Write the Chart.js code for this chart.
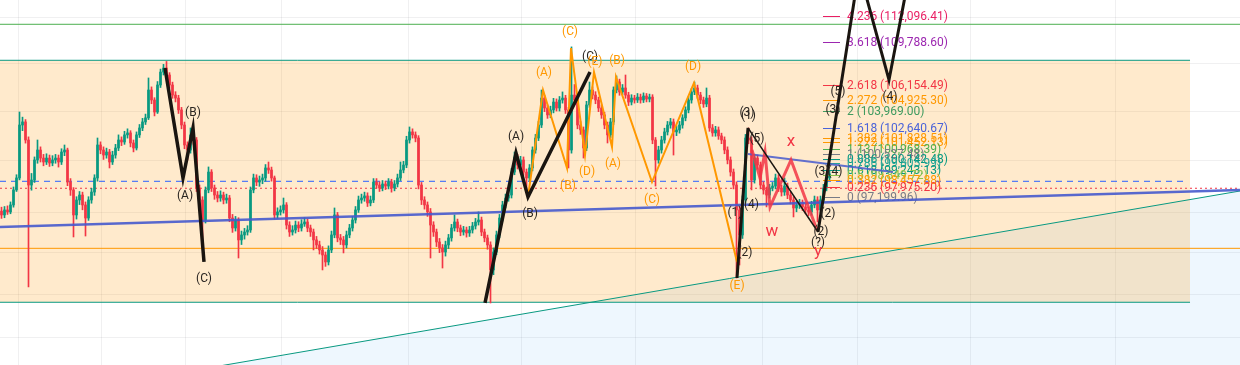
<!DOCTYPE html>
<html><head><meta charset="utf-8">
<script src="https://cdn.jsdelivr.net/npm/chart.js@4.4.1/dist/chart.umd.min.js"></script>
<style>html,body{margin:0;padding:0;background:#fff;overflow:hidden}canvas{display:block}</style>
</head><body>
<canvas id="c" width="1240" height="365"></canvas>
<script>
// ---- candle data (price in thousands USD), one candle per time index ----
const opens = [
96.10,95.81,96.19,96.04,96.57,97.72,98.65,102.86,103.11,101.65,
98.10,98.49,100.06,100.85,100.21,99.90,100.21,99.82,100.06,100.21,
99.90,100.69,100.85,98.33,97.72,95.81,96.95,97.33,96.57,95.58,
96.95,97.56,98.65,101.25,100.85,100.45,100.69,99.90,100.45,101.01,
101.65,101.49,102.06,102.22,101.41,101.01,102.06,102.62,103.11,103.44,
105.74,104.91,103.92,106.16,107.25,107.59,107.00,106.16,105.32,105.07,
104.09,102.86,101.25,100.85,102.06,101.65,97.87,96.95,95.43,97.72,
99.11,97.87,97.33,97.10,97.33,96.95,97.10,95.58,94.83,95.43,
93.94,94.31,94.53,94.68,97.72,98.65,98.33,98.49,98.65,99.43,
99.27,98.65,95.81,96.04,96.19,96.57,95.05,94.53,94.68,95.05,
94.83,95.13,95.28,94.83,94.53,93.94,93.57,93.20,92.83,92.32,
93.20,94.31,95.81,94.09,93.94,93.57,94.31,94.83,95.43,96.19,
96.95,97.10,97.26,96.72,96.95,98.33,98.10,97.87,98.18,98.02,
98.33,97.87,98.18,98.65,99.27,99.66,101.65,102.30,102.06,101.81,
98.10,96.95,96.57,96.04,95.05,94.53,93.79,93.35,93.05,93.57,
94.09,94.83,95.28,94.83,94.53,94.68,94.46,94.68,94.98,95.28,
95.43,94.53,94.09,93.57,91.74,93.05,94.31,95.58,96.57,97.10,
97.33,99.11,100.29,99.66,100.06,99.11,98.65,99.43,100.85,101.81,
102.86,105.07,104.25,103.68,104.09,104.74,104.25,104.91,105.07,104.09,
100.85,105.32,104.91,102.86,102.46,101.01,104.50,105.74,105.32,104.91,
104.25,103.68,102.86,102.06,103.11,105.74,106.41,105.58,105.91,105.32,
104.74,105.07,104.91,105.15,104.91,105.24,104.99,105.15,101.65,100.06,
100.85,101.65,102.30,102.86,103.11,102.30,102.46,102.86,103.44,104.09,
104.91,105.58,105.91,105.32,104.91,104.58,105.07,102.62,102.22,102.46,
101.98,101.65,100.85,100.06,99.11,98.10,96.19,94.31,96.95,101.81,
101.65,98.49,100.21,99.66,98.10,97.72,97.33,97.87,98.02,98.65,
97.87,97.56,98.02,97.33,96.95,96.34,96.57,96.72,96.42,96.19,
96.04,96.57,96.95,96.19,96.95,97.87,98.65];
const highs = [
96.40,96.45,96.50,96.80,97.95,98.90,103.92,103.50,103.30,101.90,
99.00,100.30,101.65,101.10,100.50,100.55,100.45,100.40,100.50,100.45,
100.95,101.25,101.00,98.60,97.90,97.20,97.60,97.55,96.80,97.20,
97.85,98.90,101.81,101.50,101.10,101.00,100.90,100.75,101.30,102.06,
101.90,102.35,102.55,102.40,101.65,102.30,102.90,103.40,103.75,106.75,
106.00,105.10,106.45,107.50,107.90,108.15,107.20,106.40,105.60,105.30,
104.30,103.10,101.50,102.62,102.30,101.85,98.10,97.20,97.95,99.51,
99.30,98.10,97.60,97.65,97.55,97.40,97.30,95.85,95.70,95.60,
94.60,94.80,95.00,97.95,98.95,98.90,98.80,98.95,99.70,99.90,
99.50,98.80,96.35,96.50,97.10,96.75,95.30,95.00,95.35,95.30,
95.45,95.60,95.50,95.05,94.75,94.20,93.85,93.45,93.05,93.50,
94.60,96.34,96.00,94.35,94.20,94.60,95.10,95.70,96.45,97.25,
97.40,97.55,97.50,97.25,98.60,98.60,98.35,98.45,98.40,98.60,
98.55,98.45,98.95,99.90,99.95,101.95,102.70,102.55,102.30,102.00,
98.30,97.20,96.80,96.30,95.30,94.75,94.05,93.60,93.85,94.35,
95.10,95.81,95.50,95.05,94.95,94.90,94.95,95.25,95.55,96.04,
95.65,94.75,94.30,93.80,93.35,94.60,95.85,96.85,97.40,97.65,
99.40,100.69,100.50,100.35,100.30,99.35,99.70,101.10,102.10,103.15,
105.74,105.30,104.50,104.40,105.05,105.00,105.20,105.58,105.30,104.30,
109.40,106.20,105.15,103.15,102.70,104.80,106.41,106.00,105.60,105.15,
104.50,103.90,103.10,103.40,106.00,106.92,106.65,106.20,107.00,105.55,
105.35,105.30,105.45,105.40,105.50,105.45,105.40,105.35,101.85,101.15,
101.95,102.60,103.15,103.40,103.35,102.80,103.15,103.70,104.35,105.20,
105.85,106.41,106.15,105.55,105.15,105.91,105.30,102.90,102.75,102.70,
102.20,101.90,101.10,100.30,99.35,98.35,96.45,97.25,102.10,102.62,
101.90,100.50,100.45,99.90,98.35,97.95,98.15,98.30,98.95,98.90,
98.10,98.65,98.25,97.55,97.20,96.85,97.00,96.95,96.65,96.40,
96.85,97.25,97.20,97.25,98.15,98.95,99.25];
const lows = [
95.55,95.60,95.85,95.90,96.40,97.60,98.50,102.40,101.40,90.52,
97.70,98.30,99.80,99.90,99.60,99.70,99.55,99.60,99.80,99.50,
99.70,100.40,98.05,97.30,94.16,95.50,96.60,96.20,94.23,95.40,
96.70,97.30,98.40,100.55,100.10,100.20,99.43,99.70,100.20,100.80,
101.20,101.30,101.80,101.10,100.70,100.85,101.85,102.40,102.90,103.30,
104.60,103.60,103.80,105.95,107.00,106.80,105.90,105.05,104.75,103.80,
102.55,100.95,100.06,100.60,101.30,97.60,96.60,93.42,95.20,97.50,
97.60,97.00,96.80,96.85,96.65,96.70,95.30,94.50,94.60,92.61,
93.60,94.00,94.30,94.50,97.50,98.05,98.00,98.20,98.40,99.00,
98.40,95.50,95.55,95.80,95.95,94.75,94.20,94.30,94.45,94.55,
94.60,94.95,94.55,94.20,93.20,93.30,92.90,91.74,92.00,92.10,
93.00,94.10,93.80,93.60,92.98,93.35,94.10,94.60,95.20,96.00,
96.70,96.85,96.45,96.50,96.75,97.85,97.60,97.65,97.75,97.80,
97.55,97.65,97.95,98.45,99.05,99.45,101.40,101.80,101.50,97.80,
96.60,96.25,95.70,92.61,94.20,93.45,93.00,91.88,92.75,93.30,
93.85,94.60,94.55,94.25,94.30,94.15,94.20,94.45,94.75,95.05,
94.25,93.80,93.25,89.38,91.40,92.85,94.10,95.35,96.35,96.85,
97.10,98.90,99.35,99.40,98.85,97.72,98.40,99.20,100.60,101.60,
102.65,103.95,103.40,103.45,103.85,104.00,104.00,104.65,103.80,99.43,
100.60,104.55,102.55,102.10,100.21,100.80,104.30,105.00,104.60,103.95,
103.40,102.55,101.41,101.85,102.90,105.50,105.30,105.35,105.05,104.45,
104.50,104.65,104.70,104.65,104.70,104.75,104.75,101.35,98.02,99.80,
100.60,101.40,102.05,102.60,100.45,102.00,102.20,102.60,103.20,103.85,
104.65,105.35,105.05,104.60,104.30,104.35,102.35,101.95,101.95,101.70,
101.35,100.55,99.75,98.80,97.80,91.16,92.10,94.05,96.70,101.35,
97.72,98.25,99.35,97.80,97.40,96.42,97.10,97.65,97.80,97.60,
97.25,97.30,97.05,96.65,95.66,96.05,96.30,96.15,95.90,95.75,
95.80,96.35,95.28,95.95,96.75,97.65,98.45];
const closes = [
95.81,96.19,96.04,96.57,97.72,98.65,102.86,103.11,101.65,98.10,
98.49,100.06,100.85,100.21,99.90,100.21,99.82,100.06,100.21,99.90,
100.69,100.85,98.33,97.72,95.81,96.95,97.33,96.57,95.58,96.95,
97.56,98.65,101.25,100.85,100.45,100.69,99.90,100.45,101.01,101.65,
101.49,102.06,102.22,101.41,101.01,102.06,102.62,103.11,103.44,105.74,
104.91,103.92,106.16,107.25,107.59,107.00,106.16,105.32,105.07,104.09,
102.86,101.25,100.85,102.06,101.65,97.87,96.95,95.43,97.72,99.11,
97.87,97.33,97.10,97.33,96.95,97.10,95.58,94.83,95.43,93.94,
94.31,94.53,94.68,97.72,98.65,98.33,98.49,98.65,99.43,99.27,
98.65,95.81,96.04,96.19,96.57,95.05,94.53,94.68,95.05,94.83,
95.13,95.28,94.83,94.53,93.94,93.57,93.20,92.83,92.32,93.20,
94.31,95.81,94.09,93.94,93.57,94.31,94.83,95.43,96.19,96.95,
97.10,97.26,96.72,96.95,98.33,98.10,97.87,98.18,98.02,98.33,
97.87,98.18,98.65,99.27,99.66,101.65,102.30,102.06,101.81,98.10,
96.95,96.57,96.04,95.05,94.53,93.79,93.35,93.05,93.57,94.09,
94.83,95.28,94.83,94.53,94.68,94.46,94.68,94.98,95.28,95.43,
94.53,94.09,93.57,91.74,93.05,94.31,95.58,96.57,97.10,97.33,
99.11,100.29,99.66,100.06,99.11,98.65,99.43,100.85,101.81,102.86,
105.07,104.25,103.68,104.09,104.74,104.25,104.91,105.07,104.09,100.85,
105.32,104.91,102.86,102.46,101.01,104.50,105.74,105.32,104.91,104.25,
103.68,102.86,102.06,103.11,105.74,106.41,105.58,105.91,105.32,104.74,
105.07,104.91,105.15,104.91,105.24,104.99,105.15,101.65,100.06,100.85,
101.65,102.30,102.86,103.11,102.30,102.46,102.86,103.44,104.09,104.91,
105.58,105.91,105.32,104.91,104.58,105.07,102.62,102.22,102.46,101.98,
101.65,100.85,100.06,99.11,98.10,96.19,94.31,96.95,101.81,101.65,
98.49,100.21,99.66,98.10,97.72,97.33,97.87,98.02,98.65,97.87,
97.56,98.02,97.33,96.95,96.34,96.57,96.72,96.42,96.19,96.04,
96.57,96.95,96.19,96.95,97.87,98.65,98.96];

// ---- drawings: [time index, price k] ----
const blackWaveLeft = [[54.5,107.59],[60.5,98.65],[63.83,102.62],[67.5,92.32]];
const blackWaveMid = [[161.17,89.38],[171.5,100.61],[175.5,97.18],[196.17,107.25]];
const orangeWave = [[175.5,97.18],[180.5,105.74],[188.5,99.43],[189.83,109.30],[194.5,100.45],[197.5,107.25],[203.5,101.09],[204.83,106.83],[216.83,98.33],[230.83,106.33],[245.17,92.32]];
const blackImpulse = [[245.17,91.16],[248.83,102.62]];
const blackThin = [[248.83,102.62],[272.17,94.53]];
const blackProjection = [[272.17,94.53],[285.83,116.25],[295.83,106.58],[303.5,117.16]];
const redWave = [[250.17,100.85],[252.83,98.65],[254.5,100.69],[256.17,96.42],[263.17,100.06],[271.83,94.68]];
const blueUpper = [[248.83,100.53],[297.17,99.11]];
const blueTrend = [[-0.5,94.90],[412.83,97.72]];
const greenDiag = [[66.17,84.82],[412.83,97.64]];

// horizontal levels (price k)
const topGreenLevel = 111.37;
const bandTopLevel = 108.25;
const bandBottomLevel = 89.43;
const orangeLevel = 93.32;
const dashedLevel = 98.39;
const dottedLevel = 97.85;

// fibonacci extension
const fibLevels = [4.236, 3.618, 2.618, 2.272, 2, 1.618, 1.382, 1.272, 1.13, 1, 0.886, 0.786, 0.618, 0.5, 0.382, 0.236, 0];
const fibPrices = [112096.41, 109788.60, 106154.49, 104925.30, 103969.00, 102640.67, 101828.51, 101452.13, 100968.39, 100527.48, 100142.48, 99805.99, 99243.13, 98849.72, 98457.88, 97975.20, 97199.96];
const fibColors = ['#e91e63','#9c27b0','#f23645','#ff9800','#3f9b5f','#4a63d8','#ff9800','#ff9800','#4caf50','#787b86','#089981','#26a69a','#089981','#8bc34a','#ff9800','#f23645','#787b86'];

// wave labels
const blackLabels = [
 ['(B)',63.83,103.84],['(A)',61.17,97.26],['(C)',67.5,91.09],
 ['(A)',171.5,101.89],['(B)',176.17,95.89],['(C)',196.17,108.53],
 ['(3)',248.5,103.84],['(1)',249.0,103.60],['(5)',251.83,101.73],['(4)',250.0,96.57],['(1)',244.5,95.96],['(2)',247.83,92.98],
 ['(3)',273.5,99.11],['(4)',277.83,99.11],['(2)',275.5,95.89],['(2)',273.17,94.53],['(?)',272.17,93.72],
 ['(3)',277.17,104.09],['(5)',278.83,105.58],['(4)',296.17,105.15]
];
const orangeLabels = [
 ['(A)',180.83,107.17],['(B)',188.83,98.02],['(C)',189.5,110.70],['(D)',195.17,99.11],['(E)',197.83,108.10],
 ['(A)',203.83,99.74],['(B)',205.17,108.19],['(C)',216.83,96.95],['(D)',230.5,107.68],['(E)',245.17,90.59]
];
const redLabels = [['w',256.83,94.53],['x',263.17,101.49],['y',272.17,93.05]];

// grid positions
const gridTimes = [19.5, 47.17, 75.17, 111.5, 159.5, 187.17, 235.5, 271.83, 298.83, 347.17];
const gridPrices = [87, 90, 93, 96, 100, 104, 108, 112];

// ---- build ----
const X_MIN = -0.5, X_MAX = 412.83, Y_MIN = 85.11, Y_MAX = 113.525;
const BAND_END = 396.17, DASH_END = 394.5;
const FIB_TICK_A = 273.83, FIB_TICK_B = 279.5, FIB_TEXT = 281.83;
const upColor = '#089981', downColor = '#f23645';
const idx = closes.map((_, i) => i);
const wickData = idx.map(i => ({x: i, y: [lows[i], highs[i]]}));
const bodyData = idx.map(i => ({x: i, y: [opens[i], closes[i]]}));
const candleColors = idx.map(i => closes[i] >= opens[i] ? upColor : downColor);

const pts = p => p.map(([x, y]) => ({x, y}));
function lineDs(p, color, width, order, extra) {
  return Object.assign({type: 'line', data: pts(p), borderColor: color, borderWidth: width,
    pointRadius: 0, tension: 0, fill: false, order: order}, extra || {});
}
function hLine(level, x0, x1, color, width, order, extra) {
  return lineDs([[x0, level], [x1, level]], color, width, order, extra);
}
function fmt(v) {
  const parts = v.toFixed(2).split('.');
  return parts[0].replace(/\B(?=(\d{3})+(?!\d))/g, ',') + '.' + parts[1];
}

const overlay = {
  id: 'overlay',
  afterDatasetDraw(chart, args) {
    if (chart.data.datasets[args.index].label !== 'bodies') return;
    const {ctx, scales: {x, y}} = chart;
    ctx.save();
    ctx.font = '12px Roboto, "Liberation Sans", sans-serif';
    ctx.textBaseline = 'middle';
    ctx.textAlign = 'left';
    fibLevels.forEach((lv, k) => {
      const py = Math.round(y.getPixelForValue(fibPrices[k] / 1000)) + 0.5;
      ctx.strokeStyle = fibColors[k];
      ctx.lineWidth = 1;
      ctx.beginPath();
      ctx.moveTo(x.getPixelForValue(FIB_TICK_A), py);
      ctx.lineTo(x.getPixelForValue(FIB_TICK_B), py);
      ctx.stroke();
      ctx.fillStyle = fibColors[k];
      ctx.fillText(lv + ' (' + fmt(fibPrices[k]) + ')', x.getPixelForValue(FIB_TEXT), py);
    });
    ctx.restore();
  },
  afterDatasetsDraw(chart) {
    const {ctx, scales: {x, y}} = chart;
    ctx.save();
    ctx.textBaseline = 'middle';
    ctx.textAlign = 'center';
    const draw = (list, color, font) => {
      ctx.fillStyle = color;
      ctx.font = font;
      list.forEach(([t, xv, yv]) => ctx.fillText(t, x.getPixelForValue(xv), y.getPixelForValue(yv)));
    };
    draw(blackLabels, '#2a2520', '12px Roboto, "Liberation Sans", sans-serif');
    draw(orangeLabels, '#ff9800', '12px Roboto, "Liberation Sans", sans-serif');
    draw(redLabels, '#f23645', '17px Roboto, "Liberation Sans", sans-serif');
    ctx.restore();
  }
};

const gridColor = 'rgba(42,46,57,0.07)';
new Chart(document.getElementById('c'), {
  type: 'bar',
  data: {
    datasets: [
      lineDs(greenDiag, 'rgba(0,0,0,0)', 0, 100, {fill: 'start', backgroundColor: 'rgba(33,150,243,0.08)'}),
      hLine(bandTopLevel, X_MIN, BAND_END, '#089981', 1, 95, {fill: {value: bandBottomLevel}, backgroundColor: 'rgba(255,152,0,0.2)'}),
      hLine(bandBottomLevel, X_MIN, BAND_END, '#089981', 1, 94),
      lineDs(greenDiag, '#089981', 1, 93),
      hLine(topGreenLevel, X_MIN, X_MAX, '#4caf50', 1, 92),
      hLine(orangeLevel, X_MIN, X_MAX, '#ff9800', 1, 91),
      hLine(dashedLevel, X_MIN, DASH_END, '#2962ff', 1, 90, {borderDash: [6, 5]}),
      hLine(dottedLevel, X_MIN, X_MAX, '#f23645', 1, 89, {borderDash: [2, 3]}),
      {type: 'bar', label: 'wicks', data: wickData, backgroundColor: candleColors, barThickness: 1, grouped: false, order: 60},
      {type: 'bar', label: 'bodies', data: bodyData, backgroundColor: candleColors, barThickness: 2, grouped: false, order: 59},
      lineDs(blueTrend, 'rgba(70,90,205,0.9)', 2.5, 40),
      lineDs(blueUpper, 'rgba(70,90,205,0.85)', 2, 39),
      lineDs(orangeWave, '#ff9800', 2, 30),
      lineDs(redWave, 'rgba(242,54,69,0.85)', 3, 25),
      lineDs(blackThin, '#1a1510', 1.5, 22),
      lineDs(blackWaveLeft, '#1a1510', 3.5, 20),
      lineDs(blackWaveMid, '#1a1510', 3.5, 20),
      lineDs(blackImpulse, '#1a1510', 3, 20),
      lineDs(blackProjection, '#1a1510', 3, 20)
    ]
  },
  options: {
    responsive: false,
    animation: false,
    devicePixelRatio: 1,
    layout: {padding: 0},
    plugins: {legend: {display: false}, tooltip: {enabled: false}},
    scales: {
      x: {
        type: 'linear', min: X_MIN, max: X_MAX, offset: false,
        ticks: {display: false}, border: {display: false},
        grid: {color: gridColor, drawTicks: false},
        afterBuildTicks: s => { s.ticks = gridTimes.map(v => ({value: v})); }
      },
      y: {
        type: 'logarithmic', min: Y_MIN, max: Y_MAX,
        ticks: {display: false}, border: {display: false},
        grid: {color: gridColor, drawTicks: false},
        afterBuildTicks: s => { s.ticks = gridPrices.map(v => ({value: v})); }
      }
    }
  },
  plugins: [overlay]
});
</script>
</body></html>
